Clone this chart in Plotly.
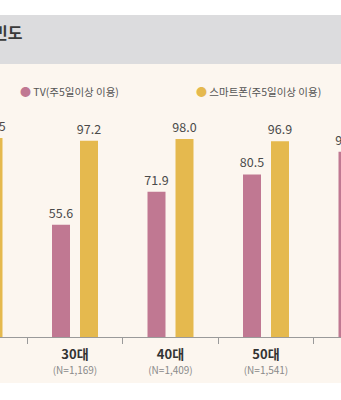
import plotly.graph_objects as go

categories = ["20대", "30대", "40대", "50대", "60대"]
sample_sizes = ["(N=1,015)", "(N=1,169)", "(N=1,409)", "(N=1,541)", "(N=1,430)"]
tv_values = [40.2, 55.6, 71.9, 80.5, 91.7]
phone_values = [98.5, 97.2, 98.0, 96.9, 93.0]
series_names = ["TV(주5일이상 이용)", "스마트폰(주5일이상 이용)"]
title_text = "이용 빈도"

W, H = 341, 400
plot_top, plot_bottom = 64, 337
ph = plot_bottom - plot_top
px_per_unit = 2.02
spacing = 95.5
center_30 = 75

def paper_y(py):
    return (plot_bottom - py) / ph

x_lo = 1 - center_30 / spacing
x_hi = x_lo + W / spacing

tick_text = [f"<span style='font-size:13px;color:#333333'><b>{c}</b></span><br>"
             f"<span style='font-size:10px;color:#8a8a8a'>{n}</span>"
             for c, n in zip(categories, sample_sizes)]

bw = 18 / spacing
off = 14 / spacing

TV_COLOR = "#C07892"
PH_COLOR = "#E5B94E"
FONT = "Noto Sans CJK KR"

fig = go.Figure()
for vals, name, color, sign in [(tv_values, series_names[0], TV_COLOR, -1),
                                (phone_values, series_names[1], PH_COLOR, 1)]:
    fig.add_trace(go.Bar(
        x=categories, y=vals, name=name,
        marker=dict(color=color, line=dict(width=0)),
        width=bw, offset=sign * off - bw / 2,
        text=[f"{v:.1f}" for v in vals], textposition="outside",
        constraintext="none",
        textfont=dict(size=12.5, color="#4a4a4a", family=FONT),
        cliponaxis=True, showlegend=False,
    ))

shapes = [
    dict(type="rect", xref="paper", yref="paper", x0=0, x1=1,
         y0=paper_y(383), y1=paper_y(64), fillcolor="#FCF6EF",
         line=dict(width=0), layer="below"),
    dict(type="rect", xref="paper", yref="paper", x0=0, x1=1,
         y0=paper_y(64), y1=paper_y(15), fillcolor="#DCDCDE",
         line=dict(width=0), layer="below"),
]

annotations = [
    dict(text="<b>" + title_text + "</b>", xref="paper", yref="paper",
         x=25 / W, y=paper_y(32), xanchor="right", yanchor="middle",
         showarrow=False,
         font=dict(size=16, color="#3a3a3a", family=FONT)),
]
legend_pos = [(18, TV_COLOR, series_names[0]), (194, PH_COLOR, series_names[1])]
for lx, color, name in legend_pos:
    annotations.append(dict(
        text=f"<span style='color:{color};font-size:11px'>●</span> {name}",
        xref="paper", yref="paper", x=lx / W, y=paper_y(91),
        xanchor="left", yanchor="middle", showarrow=False,
        font=dict(size=10.5, color="#555555", family=FONT)))

fig.update_layout(
    width=W, height=H,
    margin=dict(l=0, r=0, t=plot_top, b=H - plot_bottom, pad=0),
    paper_bgcolor="white", plot_bgcolor="rgba(0,0,0,0)",
    barmode="overlay",
    shapes=shapes, annotations=annotations,
    font=dict(family=FONT, color="#444444"),
    showlegend=False,
    xaxis=dict(range=[x_lo, x_hi], tickmode="array", tickvals=categories, ticktext=tick_text,
               tickson="boundaries", ticks="outside", ticklen=6, tickcolor="#9a9a9a",
               showline=True, linecolor="#9a9a9a", linewidth=1, showgrid=False,
               ticklabelstandoff=8,
               tickfont=dict(size=11, color="#8a8a8a"), fixedrange=True),
    yaxis=dict(range=[0, ph / px_per_unit], visible=False, showgrid=False, fixedrange=True),
)

fig.write_html("out.html")
